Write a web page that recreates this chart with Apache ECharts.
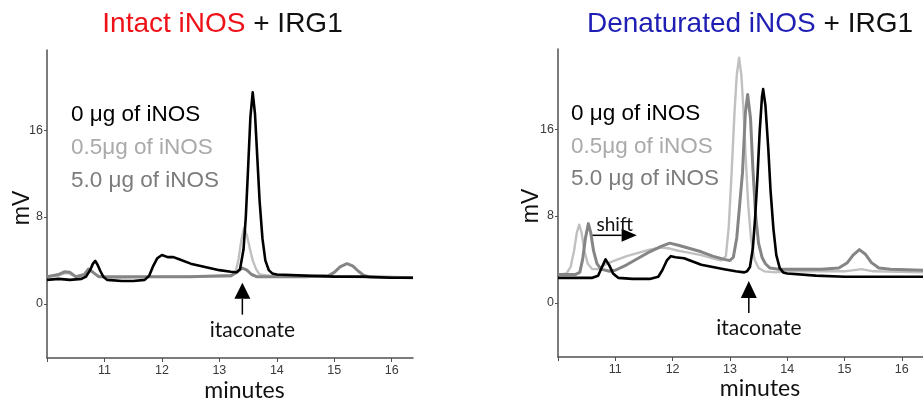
<!DOCTYPE html>
<html><head><meta charset="utf-8">
<script src="https://cdn.jsdelivr.net/npm/echarts@6/dist/echarts.min.js"></script>
<style>html,body{margin:0;padding:0;background:#fff;}#c{width:923px;height:406px;}</style>
</head><body><div id="c"></div>
<script>
// ---- axis ticks ----
const xTickValues = [10, 11, 12, 13, 14, 15, 16];
const xLabelValues = [11, 12, 13, 14, 15, 16];
const yTickValues = [0, 8, 16];
const legendLabels = ['0 \u03bcg of iNOS', '0.5\u03bcg of iNOS', '5.0 \u03bcg of iNOS'];

// ---- Intact iNOS + IRG1 : [minutes, mV] ----
const intact0 = [[10.0,2.2],[10.2,2.3],[10.4,2.2],[10.6,2.3],[10.68,2.5],[10.75,3.1],[10.8,3.7],[10.84,3.95],[10.88,3.6],[10.93,3.0],[10.98,2.5],[11.05,2.2],[11.3,2.1],[11.5,2.1],[11.7,2.2],[11.78,2.6],[11.85,3.5],[11.92,4.2],[12.0,4.5],[12.1,4.3],[12.2,4.3],[12.3,4.1],[12.5,3.7],[12.75,3.4],[13.0,3.1],[13.2,2.95],[13.3,2.9],[13.36,3.2],[13.42,5.0],[13.46,8.0],[13.5,12.5],[13.54,17.2],[13.58,19.5],[13.62,17.5],[13.66,13.5],[13.7,9.5],[13.75,6.0],[13.8,4.0],[13.86,3.1],[13.92,2.8],[14.0,2.7],[14.5,2.6],[15.0,2.5],[15.5,2.5],[16.0,2.4],[16.37,2.4]];
const intact05 = [[10.0,2.5],[10.2,2.6],[10.3,2.8],[10.38,2.8],[10.5,2.5],[10.65,2.6],[10.72,3.1],[10.78,3.0],[10.9,2.5],[11.2,2.4],[12.0,2.5],[12.8,2.5],[13.2,2.5],[13.28,2.9],[13.33,4.0],[13.38,5.8],[13.43,7.0],[13.48,6.3],[13.53,5.1],[13.58,4.0],[13.64,3.2],[13.7,2.7],[14.0,2.5],[15.0,2.5],[16.0,2.4],[16.37,2.4]];
const intact50 = [[10.0,2.5],[10.2,2.7],[10.3,2.95],[10.4,2.9],[10.5,2.5],[10.65,2.7],[10.72,3.2],[10.8,2.9],[10.9,2.5],[11.5,2.5],[12.5,2.5],[13.2,2.6],[13.3,2.9],[13.4,3.3],[13.48,3.1],[13.56,2.7],[13.65,2.5],[14.5,2.5],[14.9,2.6],[15.0,2.9],[15.1,3.4],[15.22,3.7],[15.32,3.5],[15.42,3.0],[15.52,2.6],[15.6,2.5],[16.37,2.4]];

// ---- Denaturated iNOS + IRG1 : [minutes, mV] ----
const denat0 = [[10.0,2.3],[10.3,2.3],[10.6,2.3],[10.7,2.5],[10.76,3.2],[10.83,4.0],[10.9,3.4],[10.96,2.7],[11.05,2.3],[11.3,2.2],[11.6,2.2],[11.75,2.4],[11.82,3.0],[11.9,3.9],[11.97,4.3],[12.05,4.2],[12.2,4.1],[12.35,3.8],[12.5,3.5],[12.7,3.3],[12.9,3.1],[13.1,2.9],[13.25,2.8],[13.3,2.9],[13.35,3.3],[13.4,5.0],[13.44,7.8],[13.48,11.5],[13.52,15.8],[13.56,19.0],[13.58,19.7],[13.62,18.2],[13.67,14.2],[13.71,10.3],[13.76,6.8],[13.81,4.4],[13.87,3.2],[13.93,2.8],[14.0,2.7],[14.5,2.5],[15.0,2.4],[15.5,2.4],[16.37,2.4]];
const denat05 = [[10.0,2.6],[10.15,2.7],[10.22,3.3],[10.28,4.8],[10.33,6.5],[10.37,7.2],[10.41,6.5],[10.46,4.8],[10.52,3.6],[10.6,3.1],[10.7,3.1],[10.85,3.6],[11.0,3.9],[11.2,4.3],[11.4,4.6],[11.6,4.9],[11.8,5.1],[11.95,5.0],[12.1,4.8],[12.3,4.6],[12.5,4.4],[12.7,4.1],[12.85,3.9],[12.93,4.3],[12.98,7.0],[13.03,12.0],[13.08,17.5],[13.12,21.0],[13.16,22.6],[13.2,21.0],[13.24,17.5],[13.28,13.0],[13.32,9.0],[13.37,5.8],[13.43,4.0],[13.5,3.2],[13.6,2.9],[13.8,2.8],[14.0,2.9],[14.5,2.9],[15.0,2.9],[15.3,3.1],[15.5,2.9],[16.37,2.8]];
const denat50 = [[10.0,2.6],[10.3,2.6],[10.38,2.8],[10.43,4.0],[10.48,6.0],[10.53,7.3],[10.57,6.5],[10.62,4.8],[10.68,3.6],[10.75,3.1],[10.9,2.9],[11.0,3.0],[11.2,3.5],[11.4,4.1],[11.6,4.7],[11.8,5.2],[11.95,5.5],[12.1,5.3],[12.3,5.0],[12.5,4.7],[12.7,4.3],[12.9,4.0],[13.0,3.9],[13.06,4.2],[13.12,6.0],[13.17,9.0],[13.22,12.0],[13.27,17.5],[13.31,19.2],[13.36,17.0],[13.4,12.5],[13.45,8.0],[13.5,5.5],[13.56,4.2],[13.62,3.6],[13.7,3.2],[13.85,3.1],[14.2,3.1],[14.6,3.1],[14.9,3.2],[15.05,3.7],[15.15,4.4],[15.26,4.9],[15.36,4.5],[15.47,3.7],[15.6,3.2],[15.8,3.1],[16.37,3.0]];

const BLACK = '#000000', LIGHT = '#c0c0c0', MID = '#858585';
const AXIS = '#505050';

const chart = echarts.init(document.getElementById('c'), null, {renderer: 'canvas'});

function xAx(gi) {
  return {
    type: 'value', gridIndex: gi, min: 10, max: 16.37,
    axisLine: {show: true, onZero: false, lineStyle: {color: AXIS, width: 1.5}},
    axisTick: {show: true, length: 4, customValues: xTickValues, lineStyle: {color: AXIS}},
    axisLabel: {customValues: xLabelValues, color: '#3a3a3a', fontSize: 12.5, fontFamily: 'Liberation Sans, Arial', margin: 6},
    splitLine: {show: false}
  };
}
function yAx(gi) {
  return {
    type: 'value', gridIndex: gi, min: -5, max: 23.4,
    axisLine: {show: true, onZero: false, lineStyle: {color: AXIS, width: 1.5}},
    axisTick: {show: true, length: 3, customValues: yTickValues, lineStyle: {color: AXIS}},
    axisLabel: {customValues: yTickValues, color: '#3a3a3a', fontSize: 12.5, fontFamily: 'Liberation Sans, Arial', margin: 4},
    splitLine: {show: false}
  };
}
function ser(gi, data, color, w) {
  return {type: 'line', xAxisIndex: gi, yAxisIndex: gi, data: data, showSymbol: false, symbol: 'none',
    lineStyle: {color: color, width: w, join: 'round'}, itemStyle: {color: color}, animation: false, silent: true};
}

chart.setOption({
  animation: false,
  grid: [
    {left: 47, top: 50, width: 366, height: 308, containLabel: false},
    {left: 558, top: 49, width: 366, height: 308, containLabel: false}
  ],
  xAxis: [xAx(0), xAx(1)],
  yAxis: [yAx(0), yAx(1)],
  series: [
    ser(0, intact05, LIGHT, 2.4), ser(0, intact50, MID, 3), ser(0, intact0, BLACK, 2.6),
    ser(1, denat05, LIGHT, 2.4), ser(1, denat50, MID, 3), ser(1, denat0, BLACK, 2.6)
  ]
});

function P(gi, x, y) { return chart.convertToPixel({gridIndex: gi}, [x, y]); }

function arrowUp(gi, x, yTip, yBase, yEnd) {
  const t = P(gi, x, yTip), b = P(gi, x, yBase), e = P(gi, x, yEnd);
  return [
    {type: 'polygon', shape: {points: [[t[0], t[1]], [t[0] - 8, b[1]], [t[0] + 8, b[1]]]}, style: {fill: '#000'}},
    {type: 'line', shape: {x1: t[0], y1: b[1], x2: e[0], y2: e[1]}, style: {stroke: '#000', lineWidth: 1.5}}
  ];
}

const SANS = '"Liberation Sans", Arial, sans-serif';
const HUM = 'Lato, "Open Sans", sans-serif';
function txt(x, y, text, size, fam, color, extra) {
  return Object.assign({type: 'text', x: x, y: y, style: {text: text, font: size + 'px ' + fam, fill: color, textAlign: 'left', textVerticalAlign: 'middle'}}, extra || {});
}

const g = [];
// titles
g.push({type: 'text', x: 222.5, y: 24, style: {text: '{r|Intact iNOS} + IRG1', font: '28px ' + SANS, fill: '#111', textAlign: 'center', textVerticalAlign: 'middle',
  rich: {r: {fill: '#ee1118', font: '28px ' + SANS}}}});
g.push({type: 'text', x: 750, y: 24, style: {text: '{b|Denaturated iNOS} + IRG1', font: '28px ' + SANS, fill: '#111', textAlign: 'center', textVerticalAlign: 'middle',
  rich: {b: {fill: '#1e1eb4', font: '28px ' + SANS}}}});
// legends (in-plot labels)
const legColors = [BLACK, '#aaaaaa', '#7c7c7c'];
const legY = [115, 148, 181];
const legYR = [114, 147, 179];
for (let i = 0; i < 3; i++) {
  g.push(txt(71, legY[i], legendLabels[i], 22.5, SANS, legColors[i]));
  g.push(txt(571, legYR[i], legendLabels[i], 22.5, SANS, legColors[i]));
}
// axis names
g.push({type: 'text', x: 23, y: 208, rotation: Math.PI / 2, style: {text: 'mV', font: '23px ' + SANS, fill: '#111', textAlign: 'center', textVerticalAlign: 'middle'}});
g.push({type: 'text', x: 532, y: 206, rotation: Math.PI / 2, style: {text: 'mV', font: '23px ' + SANS, fill: '#111', textAlign: 'center', textVerticalAlign: 'middle'}});
g.push({type: 'text', x: 244.5, y: 391, style: {text: 'minutes', font: '23px ' + HUM, fill: '#111', textAlign: 'center', textVerticalAlign: 'middle'}});
g.push({type: 'text', x: 760, y: 389, style: {text: 'minutes', font: '23px ' + HUM, fill: '#111', textAlign: 'center', textVerticalAlign: 'middle'}});
// itaconate annotations
const aL = P(0, 13.4, -2.4), aR = P(1, 13.33, -2.4);
g.push({type: 'text', x: aL[0] + 10, y: 330, style: {text: 'itaconate', font: '21px ' + HUM, fill: '#111', textAlign: 'center', textVerticalAlign: 'middle'}});
g.push({type: 'text', x: aR[0] + 10, y: 328, style: {text: 'itaconate', font: '21px ' + HUM, fill: '#111', textAlign: 'center', textVerticalAlign: 'middle'}});
g.push(...arrowUp(0, 13.4, 1.94, 0.46, -1.0));
g.push(...arrowUp(1, 13.33, 2.0, 0.44, -0.94));
// shift arrow
const s1 = P(1, 10.587, 6.22), s2 = P(1, 11.375, 6.22), sh = P(1, 11.11, 6.22);
g.push({type: 'line', shape: {x1: s1[0], y1: s1[1], x2: sh[0], y2: sh[1]}, style: {stroke: '#000', lineWidth: 1.5}});
g.push({type: 'polygon', shape: {points: [[s2[0], s2[1]], [sh[0], sh[1] - 6.5], [sh[0], sh[1] + 6.5]]}, style: {fill: '#000'}});
const st = P(1, 10.99, 7.2);
g.push({type: 'text', x: st[0], y: st[1], style: {text: 'shift', font: '19px ' + HUM, fill: '#111', textAlign: 'center', textVerticalAlign: 'middle'}});

chart.setOption({graphic: {elements: g}});
</script>
</body></html>
